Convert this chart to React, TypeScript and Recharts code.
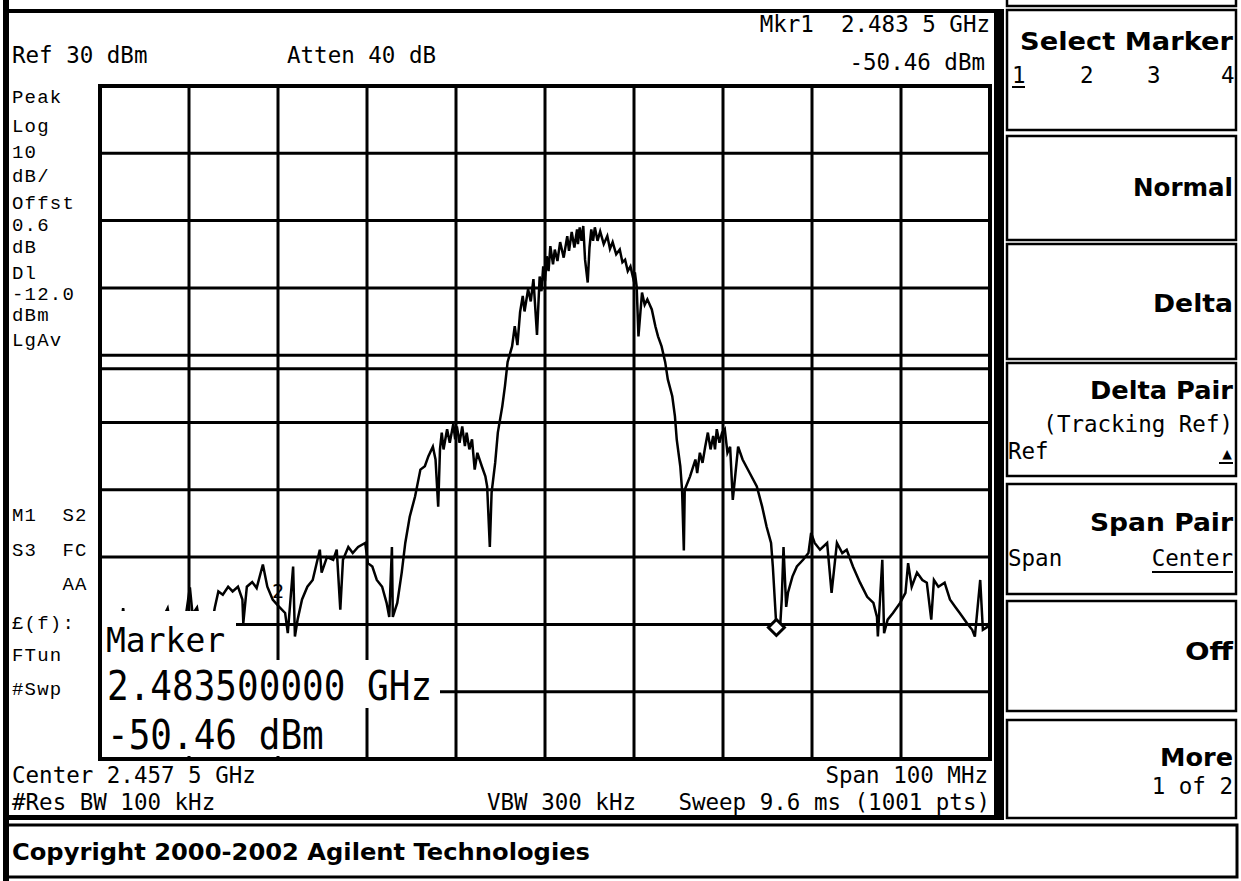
import React from 'react';
import { LineChart, Line, XAxis, YAxis, CartesianGrid, ReferenceLine, ReferenceDot } from 'recharts';

// ---- Data: [frequency MHz, level dBm] ----
const TRACE_LOW_BAND: [number, number][] = [
  [2407.5, -51.0], [2408.0, -52.5], [2408.7, -50.5], [2409.3, -53.0], [2409.8, -51.0],
  [2410.1, -47.6], [2410.5, -52.0], [2411.2, -50.5], [2411.8, -53.0], [2412.2, -48.2],
  [2412.8, -51.5], [2413.5, -52.5], [2414.2, -50.0], [2415.1, -47.6], [2415.6, -51.5],
  [2416.3, -52.5], [2417.0, -50.0], [2417.6, -44.5], [2417.9, -48.5], [2418.4, -47.5],
  [2418.8, -50.5], [2419.4, -49.0], [2420.0, -50.5], [2420.4, -47.5], [2420.8, -45.1],
  [2421.3, -45.6], [2421.9, -44.4], [2422.4, -45.1], [2423.0, -44.4], [2423.5, -46.3],
  [2423.6, -49.8], [2424.0, -44.4], [2424.6, -43.7], [2425.1, -44.6], [2425.8, -41.1],
  [2426.3, -44.4], [2426.9, -46.3], [2427.5, -47.2], [2428.3, -48.3], [2428.6, -51.3],
  [2429.2, -41.4], [2429.4, -51.8], [2429.7, -49.3], [2430.2, -46.3], [2430.8, -44.4],
  [2431.4, -43.4], [2432.2, -38.9], [2432.4, -42.3], [2433.0, -40.0], [2433.7, -40.4],
  [2434.1, -38.9], [2434.5, -47.8], [2434.8, -40.4], [2435.4, -38.5], [2435.9, -39.4],
  [2436.5, -38.5], [2437.3, -37.9], [2437.6, -40.9], [2438.1, -41.4], [2438.6, -43.4],
  [2439.2, -44.4], [2439.7, -46.8], [2440.0, -48.9], [2440.3, -38.5], [2440.4, -48.9],
  [2440.9, -46.8], [2441.4, -42.3], [2441.8, -37.9], [2442.3, -34.0], [2442.9, -31.0],
  [2443.5, -27.0], [2444.0, -26.5], [2444.4, -25.0], [2444.9, -23.6], [2445.2, -25.5],
  [2445.5, -32.5], [2445.7, -24.0], [2445.9, -21.5], [2446.1, -24.0], [2446.5, -21.0],
  [2446.8, -23.0], [2447.2, -20.2], [2447.4, -22.5], [2447.6, -20.6], [2447.9, -23.0],
  [2448.2, -20.6], [2448.5, -23.5], [2448.7, -21.5], [2449.0, -24.0], [2449.3, -22.5],
  [2449.6, -27.0], [2449.9, -24.5], [2450.4, -26.5], [2450.8, -28.0], [2451.0, -29.5],
  [2451.3, -38.5], [2451.5, -30.4], [2451.9, -26.0], [2452.2, -21.5], [2452.7, -17.6],
  [2453.0, -14.6], [2453.3, -11.0], [2453.8, -8.7],
];

const TRACE_MAIN_LOBE: [number, number][] = [
  [2454.1, -5.7], [2454.4, -8.5], [2454.7, -3.6], [2455.0, -1.2], [2455.2, -3.5],
  [2455.6, -0.2], [2455.9, -2.0], [2456.2, 1.3], [2456.6, -7.0], [2456.9, 1.7],
  [2457.1, -0.5], [2457.3, 3.2], [2457.5, 1.0], [2457.7, 4.7], [2457.9, 2.5],
  [2458.1, 6.2], [2458.4, 3.5], [2458.6, 5.7], [2458.9, 4.0], [2459.2, 6.8],
  [2459.6, 4.5], [2460.0, 7.7], [2460.2, 5.5], [2460.5, 8.3], [2460.8, 6.0],
  [2461.1, 8.7], [2461.2, 6.5], [2461.4, 9.0], [2461.6, 7.0], [2461.8, 9.2],
  [2462.0, 4.2], [2462.3, 0.8], [2462.5, 6.0], [2462.7, 8.7], [2462.9, 7.0],
  [2463.1, 9.0], [2463.4, 7.0], [2463.7, 8.4], [2464.1, 6.5], [2464.5, 7.7],
  [2464.8, 5.8], [2465.1, 6.8], [2465.5, 5.0], [2465.9, 5.7], [2466.2, 3.8],
  [2466.5, 4.2], [2466.8, 2.5], [2467.1, 3.2], [2467.4, 1.5], [2467.6, 2.3],
  [2467.8, 0.2], [2468.0, -7.2], [2468.4, -0.7], [2468.7, -2.5], [2469.0, -1.7],
  [2469.5, -3.2], [2469.9, -5.7], [2470.2, -7.2], [2470.6, -8.7], [2471.0, -11.0],
  [2471.3, -13.6], [2471.8, -16.1], [2472.1, -19.1], [2472.3, -22.5], [2472.7, -26.5],
  [2472.9, -30.0], [2473.1, -39.0],
];

const TRACE_HIGH_BAND: [number, number][] = [
  [2473.2, -30.0], [2473.8, -28.0], [2474.4, -25.5], [2474.6, -27.5], [2474.9, -24.5],
  [2475.2, -26.0], [2475.5, -23.6], [2475.8, -21.5], [2476.1, -24.0], [2476.4, -22.0],
  [2476.6, -24.0], [2476.8, -21.0], [2477.1, -23.0], [2477.4, -21.5], [2477.7, -21.0],
  [2478.0, -24.5], [2478.3, -23.6], [2478.6, -31.5], [2479.2, -23.6], [2479.7, -25.5],
  [2480.5, -27.5], [2481.3, -29.5], [2481.9, -32.5], [2482.4, -35.5], [2482.9, -37.9],
  [2483.1, -41.4], [2483.5, -50.46], [2483.9, -50.8], [2484.1, -46.3], [2484.3, -38.5],
  [2484.6, -47.4], [2484.8, -45.3], [2485.3, -42.9], [2485.8, -41.4], [2486.5, -40.4],
  [2487.1, -39.4], [2487.4, -36.4], [2487.8, -37.9], [2488.4, -38.9], [2489.2, -37.9],
  [2489.7, -45.3], [2490.3, -37.9], [2490.9, -39.4], [2491.4, -38.9], [2492.1, -41.4],
  [2492.9, -43.8], [2493.7, -45.9], [2494.4, -46.8], [2494.8, -48.9], [2494.9, -51.8],
  [2495.4, -40.4], [2495.6, -51.3], [2496.0, -49.3], [2496.6, -48.3], [2497.4, -46.8],
  [2498.0, -45.3], [2498.3, -40.9], [2498.7, -44.4], [2499.3, -42.3], [2499.9, -43.4],
  [2500.4, -43.8], [2500.9, -49.3], [2501.2, -43.4], [2501.7, -44.4], [2502.4, -43.8],
  [2503.0, -46.3], [2503.6, -47.4], [2504.1, -48.3], [2504.9, -49.8], [2505.5, -50.8],
  [2505.8, -51.8], [2506.4, -43.4], [2506.7, -50.8], [2507.3, -50.3], [2507.5, -49.3],
];

const FREQ_TICKS = [2407.5, 2417.5, 2427.5, 2437.5, 2447.5, 2457.5, 2467.5, 2477.5, 2487.5, 2497.5, 2507.5];
const LEVEL_TICKS = [-70, -60, -50, -40, -30, -20, -10, 0, 10, 20, 30];
const DISPLAY_LINE_DBM = -12;
const MARKER1 = { f: 2483.5, dbm: -50.46 };
const MARKER2 = { f: 2427.5, dbm: -47.2 };

const LEFT_ANNOTATIONS = [
  { t: 'Peak', y: 103 }, { t: 'Log', y: 132 }, { t: '10', y: 158 }, { t: 'dB/', y: 182 },
  { t: 'Offst', y: 209 }, { t: '0.6', y: 231 }, { t: 'dB', y: 253 }, { t: 'Dl', y: 279 },
  { t: '-12.0', y: 300 }, { t: 'dBm', y: 321 }, { t: 'LgAv', y: 346 },
  { t: 'M1  S2', y: 521 }, { t: 'S3  FC', y: 556 }, { t: '    AA', y: 590 },
  { t: '£(f):', y: 629 }, { t: 'FTun', y: 661 }, { t: '#Swp', y: 695 },
];

const traceData = [...TRACE_LOW_BAND, ...TRACE_MAIN_LOBE, ...TRACE_HIGH_BAND].map(([f, dbm]) => ({ f, dbm }));

const MONO = '"DejaVu Sans Mono", "Liberation Mono", monospace';
const LMONO = '"Liberation Mono", "DejaVu Sans Mono", monospace';
const BOLD = '"DejaVu Sans", "Liberation Sans", sans-serif';

const Diamond = (props: any) => {
  const { cx, cy } = props;
  if (cx == null || cy == null) return null;
  const s = 8;
  return (
    <path d={`M${cx},${cy - s} L${cx + s},${cy} L${cx},${cy + s} L${cx - s},${cy} Z`}
      fill="#fff" stroke="#000" strokeWidth={3} />
  );
};

const SOFTKEYS = [
  { y: 10, h: 120 }, { y: 136, h: 104 }, { y: 244, h: 115 }, { y: 363, h: 113 },
  { y: 484, h: 110 }, { y: 601, h: 110 }, { y: 720, h: 98 },
];

export default function App() {
  const txt = { fontFamily: MONO, fontSize: 22.5, fill: '#000' } as const;
  const side = { fontFamily: LMONO, fontSize: 19, fill: '#000', letterSpacing: 1.2 } as const;
  const bold = { fontFamily: BOLD, fontSize: 24, fontWeight: 700, fill: '#000' } as const;
  return (
    <div style={{ position: 'absolute', left: 0, top: 0, width: 1241, height: 881, background: '#fff', overflow: 'hidden' }}>
      <div style={{ position: 'absolute', left: 0, top: 0 }}>
        <LineChart width={1241} height={881} data={traceData}
          margin={{ top: 86, right: 251, bottom: 122, left: 100 }}>
          <XAxis dataKey="f" type="number" domain={[2407.5, 2507.5]} ticks={FREQ_TICKS} hide allowDataOverflow />
          <YAxis type="number" domain={[-70, 30]} ticks={LEVEL_TICKS} hide allowDataOverflow />
          <CartesianGrid stroke="#000" strokeWidth={3} strokeOpacity={1} fill="#fff" />
          <ReferenceLine y={DISPLAY_LINE_DBM} stroke="#000" strokeWidth={3} />
          <Line dataKey="dbm" type="linear" stroke="#000" strokeWidth={2.5} dot={false}
            isAnimationActive={false} strokeLinejoin="miter" />
          <ReferenceDot x={MARKER1.f} y={MARKER1.dbm} shape={Diamond} />
          <ReferenceDot x={MARKER2.f} y={MARKER2.dbm} r={0} stroke="none"
            label={{ value: '2', position: 'top', offset: 8, fontFamily: MONO, fontSize: 20, fill: '#000' }} />
        </LineChart>
      </div>
      <svg width={1241} height={881} style={{ position: 'absolute', left: 0, top: 0, pointerEvents: 'none' }}>
        {/* plot border */}
        <rect x={100} y={86} width={890} height={673} fill="none" stroke="#000" strokeWidth={4} />
        {/* screen frame */}
        <rect x={3} y={0} width={6} height={881} fill="#000" />
        <rect x={3} y={9} width={997} height={4} fill="#000" />
        <rect x={3} y={815} width={997} height={5} fill="#000" />
        <rect x={994} y={9} width={10} height={811} fill="#000" />
        {/* copyright box */}
        <rect x={7} y={825} width={1230} height={52} fill="none" stroke="#000" strokeWidth={3} />
        {/* softkeys */}
        <rect x={1007} y={-10} width={229} height={16} fill="none" stroke="#000" strokeWidth={2.5} />
        {SOFTKEYS.map((k, i) => (
          <rect key={i} x={1007} y={k.y} width={229} height={k.h} fill="none" stroke="#000" strokeWidth={2.5} />
        ))}

        {/* header */}
        <text x={12} y={63} {...txt}>Ref 30 dBm</text>
        <text x={287} y={63} {...txt}>Atten 40 dB</text>
        <text x={990} y={32} textAnchor="end" {...txt} xmlSpace="preserve">Mkr1  2.483 5 GHz</text>
        <text x={985} y={70} textAnchor="end" {...txt}>-50.46 dBm</text>

        {/* left annotations */}
        {LEFT_ANNOTATIONS.map((a, i) => (
          <text key={i} x={12} y={a.y} {...side} xmlSpace="preserve" style={{ whiteSpace: 'pre' }}>{a.t}</text>
        ))}

        {/* marker readout boxes */}
        <rect x={102} y={611} width={134} height={49} fill="#fff" />
        <rect x={102} y={660} width={338} height={48} fill="#fff" />
        <rect x={102} y={708} width={225} height={48} fill="#fff" />
        <text x={106} y={652} fontFamily={MONO} fontSize={33} fill="#000">Marker</text>
        <g transform="translate(107,700) scale(1,1.12)">
          <text x={0} y={0} fontFamily={MONO} fontSize={36} fill="#000">2.483500000 GHz</text>
        </g>
        <g transform="translate(107,749) scale(1,1.12)">
          <text x={0} y={0} fontFamily={MONO} fontSize={36} fill="#000">-50.46 dBm</text>
        </g>

        {/* footer */}
        <text x={12} y={783} {...txt}>Center 2.457 5 GHz</text>
        <text x={988} y={783} textAnchor="end" {...txt}>Span 100 MHz</text>
        <text x={12} y={810} {...txt}>#Res BW 100 kHz</text>
        <text x={487} y={810} {...txt}>VBW 300 kHz</text>
        <text x={990} y={810} textAnchor="end" {...txt}>Sweep 9.6 ms (1001 pts)</text>
        <text x={12} y={860} {...bold} fontSize={23} textLength={578} lengthAdjust="spacingAndGlyphs">Copyright 2000-2002 Agilent Technologies</text>

        {/* softkey labels */}
        <text x={1233} y={50} textAnchor="end" {...bold} textLength={213} lengthAdjust="spacingAndGlyphs">Select Marker</text>
        <text x={1012} y={83} {...txt}>1</text>
        <rect x={1012} y={86} width={13} height={2} fill="#000" />
        <text x={1080} y={83} {...txt}>2</text>
        <text x={1147} y={83} {...txt}>3</text>
        <text x={1221} y={83} {...txt}>4</text>
        <text x={1233} y={196} textAnchor="end" {...bold} textLength={100} lengthAdjust="spacingAndGlyphs">Normal</text>
        <text x={1233} y={312} textAnchor="end" {...bold} textLength={80} lengthAdjust="spacingAndGlyphs">Delta</text>
        <text x={1233} y={399} textAnchor="end" {...bold} textLength={143} lengthAdjust="spacingAndGlyphs">Delta Pair</text>
        <text x={1233} y={432} textAnchor="end" {...txt}>(Tracking Ref)</text>
        <text x={1008} y={459} {...txt}>Ref</text>
        <text x={1232} y={459} textAnchor="end" fontFamily={MONO} fontSize={16} fill="#000">▲</text>
        <rect x={1219} y={462} width={14} height={2} fill="#000" />
        <text x={1233} y={531} textAnchor="end" {...bold} textLength={143} lengthAdjust="spacingAndGlyphs">Span Pair</text>
        <text x={1008} y={566} {...txt}>Span</text>
        <text x={1233} y={566} textAnchor="end" {...txt}>Center</text>
        <rect x={1152} y={571} width={81} height={2} fill="#000" />
        <text x={1233} y={660} textAnchor="end" {...bold} textLength={48} lengthAdjust="spacingAndGlyphs">Off</text>
        <text x={1233} y={766} textAnchor="end" {...bold} textLength={73} lengthAdjust="spacingAndGlyphs">More</text>
        <text x={1233} y={794} textAnchor="end" {...txt}>1 of 2</text>
      </svg>
    </div>
  );
}
